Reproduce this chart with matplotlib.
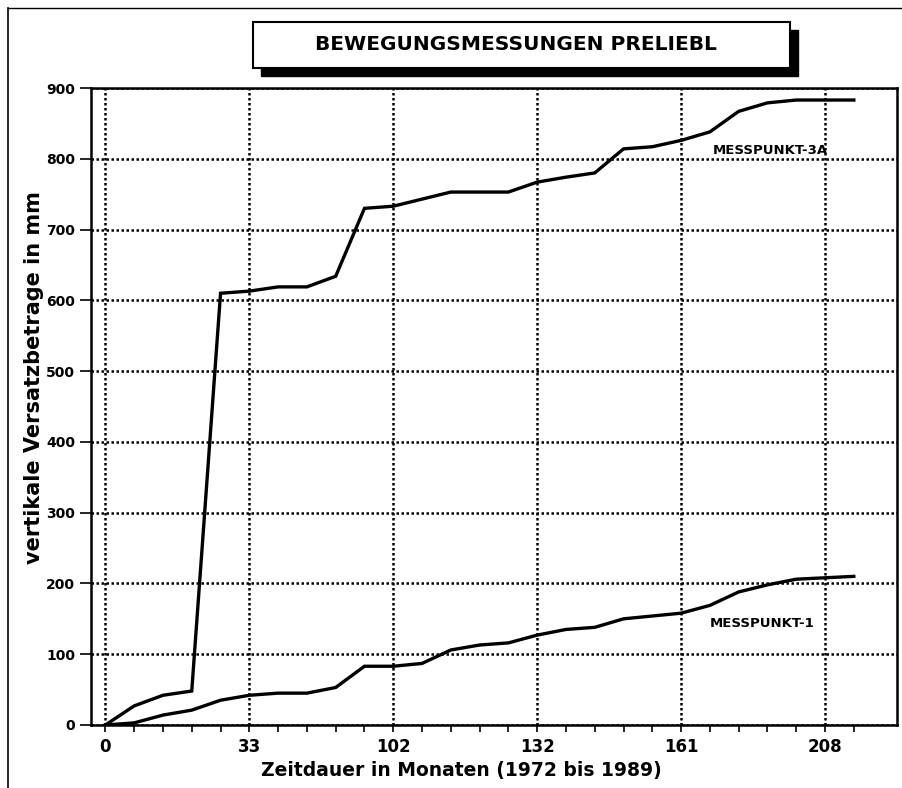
import matplotlib
matplotlib.use('Agg')
import matplotlib.pyplot as plt
from matplotlib.patches import Rectangle
from matplotlib.lines import Line2D

# Messwerte (gleichmaessig verteilte Messungen)
punkt_3a = [0, 27, 42, 48, 610, 613, 619, 619, 634, 730, 733, 743, 753, 753,
            753, 767, 774, 780, 814, 817, 826, 838, 867, 879, 883, 883, 883]
punkt_1 = [0, 3, 14, 21, 35, 42, 45, 45, 53, 83, 83, 87, 106, 113,
           116, 127, 135, 138, 150, 154, 158, 169, 188, 198, 206, 208, 210]
x_labels = ['0', '33', '102', '132', '161', '208']
y_ticks = [0, 100, 200, 300, 400, 500, 600, 700, 800, 900]

schrift = ['DejaVu Sans']
x = list(range(len(punkt_3a)))

fig = plt.figure(figsize=(9.03, 7.88), dpi=100)
ax = fig.add_axes([91 / 903, 63 / 788, 806 / 903, 637 / 788])

ax.plot(x, punkt_3a, color='black', lw=2.4, solid_joinstyle='miter')
ax.plot(x, punkt_1, color='black', lw=2.4, solid_joinstyle='miter')

ax.set_xlim(-0.5, 27.5)
ax.set_ylim(0, 900)
ax.set_xticks(range(0, 26, 5))
ax.set_xticklabels(x_labels, family=schrift, fontweight='bold', fontsize=12)
ax.set_xticks(x, minor=True)
ax.set_yticks(y_ticks)
ax.set_yticklabels([str(v) for v in y_ticks], fontweight='bold', fontsize=10)
ax.tick_params(axis='x', which='both', direction='out', length=5, width=1.2)
ax.tick_params(axis='y', direction='out', length=8, width=1.2)
ax.tick_params(axis='x', which='major', pad=4)

punkte = (0, (1, 1))
ax.grid(True, color='black', ls=punkte, lw=1.8)
for s in ax.spines.values():
    s.set_linestyle(punkte)
    s.set_linewidth(1.8)

ax.text(21.1, 812, 'MESSPUNKT-3A', family=schrift, fontweight='bold',
        fontsize=9.5, va='center', ha='left')
ax.text(21.0, 144, 'MESSPUNKT-1', family=schrift, fontweight='bold',
        fontsize=9.5, va='center', ha='left')

ax.set_xlabel('Zeitdauer in Monaten (1972 bis 1989)', family=schrift,
              fontweight='bold', fontsize=13.5)
ax.set_ylabel('vertikale Versatzbetrage in mm', family=schrift,
              fontweight='bold', fontsize=15)
ax.xaxis.set_label_coords((461 - 91) / 806, -(761 - 725) / 637)
ax.yaxis.set_label_coords(-(91 - 44) / 806, (725 - 378) / 637)

# Titelkasten mit Schatten
W, H = 903, 788
fig.patches.append(Rectangle((261 / W, (H - 76) / H), 537 / W, 46 / H,
                             transform=fig.transFigure, color='black'))
fig.patches.append(Rectangle((253 / W, (H - 68) / H), 537 / W, 46 / H,
                             transform=fig.transFigure, facecolor='white',
                             edgecolor='black', lw=1.5))
fig.text(516 / W, (H - 44) / H, 'BEWEGUNGSMESSUNGEN PRELIEBL', family=schrift,
         fontweight='bold', fontsize=14.5, ha='center', va='center')

# Rahmen
fig.lines.append(Line2D([8 / W, 8 / W], [0, (H - 8) / H], color='black',
                        lw=1.2, transform=fig.transFigure))
fig.lines.append(Line2D([8 / W, 1], [(H - 8) / H, (H - 8) / H], color='black',
                        lw=1.0, transform=fig.transFigure))

fig.savefig('out.png', dpi=100)
